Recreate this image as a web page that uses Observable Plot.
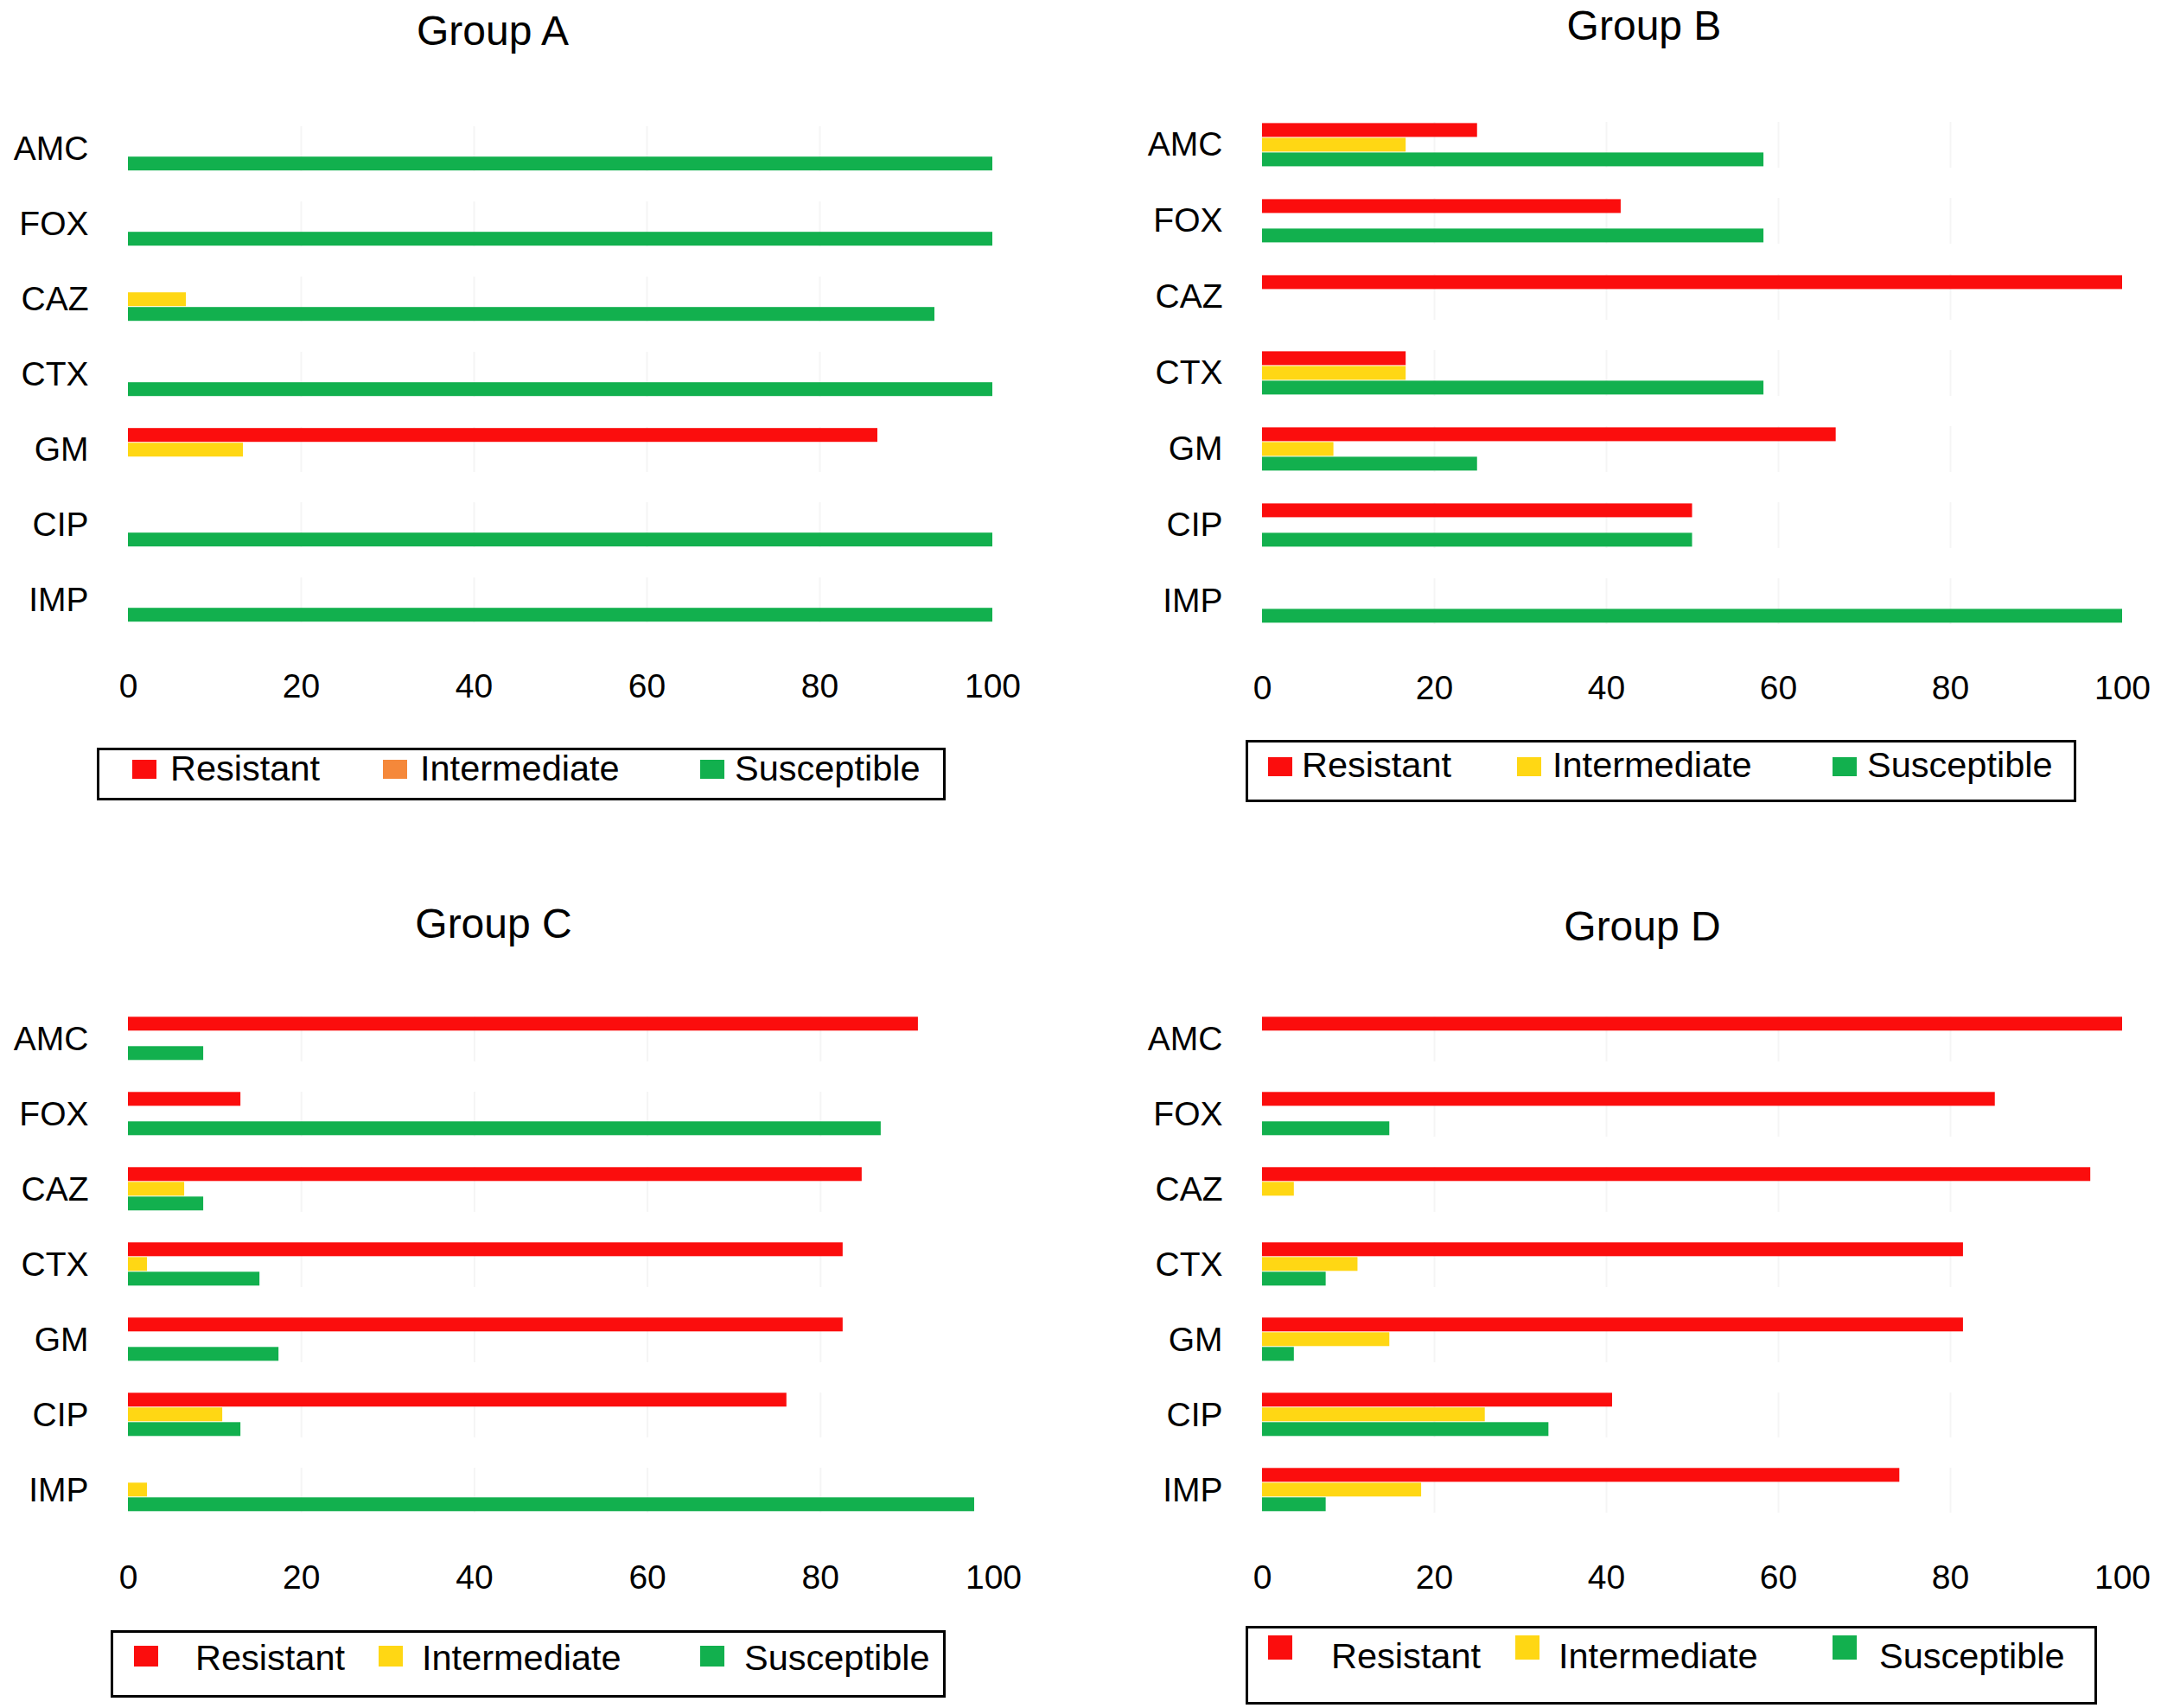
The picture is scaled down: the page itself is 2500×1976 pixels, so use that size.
<!DOCTYPE html>
<html>
<head>
<meta charset="utf-8">
<script src="https://cdn.jsdelivr.net/npm/d3@7"></script>
<script src="https://cdn.jsdelivr.net/npm/@observablehq/plot@0.6"></script>
<style>
  body { margin: 0; background: #fff; }
  #page { position: relative; width: 2500px; height: 1976px; overflow: hidden;
          font-family: "Liberation Sans", Arial, sans-serif; color: #000; }
  .panel { position: absolute; }
  .title { position: absolute; font-size: 48px; transform: translate(-50%, -50%); white-space: nowrap; }
  .box { position: absolute; border: 3px solid #000; box-sizing: border-box; }
  .sw { position: absolute; width: 28px; height: 22px; transform: translateY(-50%); }
  .lab { position: absolute; font-size: 41.5px; line-height: 1; transform: translateY(-50%); white-space: nowrap; }
</style>
</head>
<body>
<div id="page"></div>
<script>
const drugs = ["AMC", "FOX", "CAZ", "CTX", "GM", "CIP", "IMP"];
const types = ["Resistant", "Intermediate", "Susceptible"];
const xTicks = [0, 20, 40, 60, 80, 100];

// percentages, one value per drug
const groupAResistant    = [0, 0, 0, 0, 86.7, 0, 0];
const groupAIntermediate = [0, 0, 6.7, 0, 13.3, 0, 0];
const groupASusceptible  = [100, 100, 93.3, 100, 0, 100, 100];

const groupBResistant    = [25, 41.7, 100, 16.7, 66.7, 50, 0];
const groupBIntermediate = [16.7, 0, 0, 16.7, 8.3, 0, 0];
const groupBSusceptible  = [58.3, 58.3, 0, 58.3, 25, 50, 100];

const groupCResistant    = [91.3, 13, 84.8, 82.6, 82.6, 76.1, 0];
const groupCIntermediate = [0, 0, 6.5, 2.2, 0, 10.9, 2.2];
const groupCSusceptible  = [8.7, 87, 8.7, 15.2, 17.4, 13, 97.8];

const groupDResistant    = [100, 85.2, 96.3, 81.5, 81.5, 40.7, 74.1];
const groupDIntermediate = [0, 0, 3.7, 11.1, 14.8, 25.9, 18.5];
const groupDSusceptible  = [0, 14.8, 0, 7.4, 3.7, 33.3, 7.4];

const barColors = ["#fb0d0d", "#ffd714", "#12b04e"];

// page layout for the four panels
const panels = [
  {title: "Group A", series: [groupAResistant, groupAIntermediate, groupASusceptible],
   left: 0, top: 0, x0: 148, x100: 1148, firstY: 171, lastY: 695, tickY: 795,
   titleX: 570, titleY: 35, box: [112, 865, 1094, 926], labY: 889, swY: 890, swH: 22,
   swX: [153, 443, 810], labX: [197, 486, 850], swColors: ["#fb0d0d", "#f5883a", "#12b04e"]},
  {title: "Group B", series: [groupBResistant, groupBIntermediate, groupBSusceptible],
   left: 1250, top: 0, x0: 1460, x100: 2455, firstY: 167, lastY: 695, tickY: 795,
   titleX: 1902, titleY: 29, box: [1441, 856, 2402, 928], labY: 885, swY: 887, swH: 22,
   swX: [1467, 1755, 2120], labX: [1506, 1796, 2160], swColors: barColors},
  {title: "Group C", series: [groupCResistant, groupCIntermediate, groupCSusceptible],
   left: 0, top: 988, x0: 148, x100: 1149, firstY: 1200, lastY: 1726, tickY: 1827,
   titleX: 571, titleY: 1068, box: [128, 1886, 1094, 1964], labY: 1918, swY: 1916, swH: 24,
   swX: [155, 438, 810], labX: [226, 488, 861], swColors: barColors},
  {title: "Group D", series: [groupDResistant, groupDIntermediate, groupDSusceptible],
   left: 1250, top: 988, x0: 1460, x100: 2455, firstY: 1200, lastY: 1726, tickY: 1827,
   titleX: 1900, titleY: 1071, box: [1441, 1881, 2426, 1972], labY: 1916, swY: 1906, swH: 28,
   swX: [1467, 1753, 2120], labX: [1540, 1803, 2174], swColors: barColors}
];

const page = document.getElementById("page");
const fyPadding = 0.4;

panels.forEach((p) => {
  const rows = [];
  drugs.forEach((drug, i) => {
    types.forEach((type, j) => {
      const value = p.series[j][i];
      if (value > 0) rows.push({drug, type, value});
    });
  });

  // facet rows: inner padding only, so the frame runs from the first band's top to the last band's bottom
  const step = (p.lastY - p.firstY) / (drugs.length - 1);
  const frameTop = p.firstY - step * (1 - fyPadding) / 2;
  const frameH = step * (drugs.length - fyPadding);
  const lastBottom = frameTop + frameH;
  const width = 1250;
  const marginTop = frameTop - p.top;
  const marginBottom = 120;

  const chart = Plot.plot({
    width: width,
    height: marginTop + frameH + marginBottom,
    marginLeft: p.x0 - p.left,
    marginRight: p.left + width - p.x100,
    marginTop: marginTop,
    marginBottom: marginBottom,
    style: {fontSize: "39px", fontFamily: "'Liberation Sans', Arial, sans-serif", color: "#000", background: "none"},
    x: {domain: [0, 100], ticks: xTicks, tickSize: 0, tickPadding: p.tickY - 15 - lastBottom, label: null, grid: false},
    y: {domain: types, axis: null, padding: 0.03},
    fy: {domain: drugs, paddingInner: fyPadding, paddingOuter: 0, axis: "left", tickSize: 0, tickPadding: 46, label: null},
    color: {domain: types, range: barColors},
    marks: [
      Plot.ruleX([20, 40, 60, 80], {stroke: "#f5f5f5", strokeWidth: 2}),
      Plot.barX(rows, {fy: "drug", y: "type", x: "value", fill: "type"})
    ]
  });
  chart.classList.add("panel");
  chart.style.left = p.left + "px";
  chart.style.top = p.top + "px";
  page.append(chart);

  const title = document.createElement("div");
  title.className = "title";
  title.textContent = p.title;
  title.style.left = p.titleX + "px";
  title.style.top = p.titleY + "px";
  page.append(title);

  const box = document.createElement("div");
  box.className = "box";
  box.style.left = p.box[0] + "px";
  box.style.top = p.box[1] + "px";
  box.style.width = (p.box[2] - p.box[0]) + "px";
  box.style.height = (p.box[3] - p.box[1]) + "px";
  page.append(box);

  types.forEach((type, j) => {
    const sw = document.createElement("div");
    sw.className = "sw";
    sw.style.left = p.swX[j] + "px";
    sw.style.top = p.swY + "px";
    sw.style.height = p.swH + "px";
    sw.style.background = p.swColors[j];
    page.append(sw);
    const lab = document.createElement("div");
    lab.className = "lab";
    lab.textContent = type;
    lab.style.left = p.labX[j] + "px";
    lab.style.top = p.labY + "px";
    page.append(lab);
  });
});
</script>
</body>
</html>
